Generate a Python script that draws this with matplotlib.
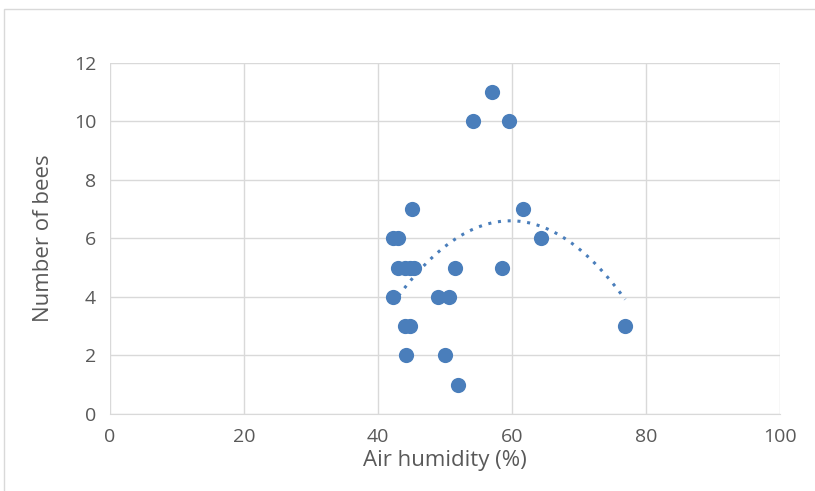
import numpy as np
import matplotlib.pyplot as plt
from matplotlib.patches import Rectangle

humidity = [57.0, 54.2, 59.6, 61.6, 64.3, 58.5, 51.5, 45.1,
            42.2, 43.0, 43.0, 44.0, 44.8, 45.4,
            42.2, 49.0, 50.6, 44.0, 44.8, 44.2, 50.0, 51.9, 76.9]
bees = [11, 10, 10, 7, 6, 5, 5, 7,
        6, 6, 5, 5, 5, 5,
        4, 4, 4, 3, 3, 2, 2, 1, 3]

blue = '#4a7ebb'
grey = '#595959'
plt.rcParams['font.family'] = ['Liberation Sans Narrow', 'Open Sans', 'DejaVu Sans']

fig = plt.figure(figsize=(8.15, 4.91), dpi=100)
ax = fig.add_axes([0.135, 0.157, 0.822, 0.715])

# chart frame
fig.patches.append(Rectangle((0.005, -0.1), 1.2, 1.082, transform=fig.transFigure,
                             fill=False, edgecolor='#d9d9d9', linewidth=1))

ax.scatter(humidity, bees, s=120, color=blue, zorder=3, linewidths=0)

# second order polynomial trend line
coef = np.polyfit(humidity, bees, 2)
xs = np.linspace(min(humidity), max(humidity), 200)
ax.plot(xs, np.polyval(coef, xs), color=blue, linestyle=(0, (1, 2.2)),
        linewidth=2.2, zorder=2)

ax.set_xlim(0, 100)
ax.set_ylim(0, 12)
ax.set_xticks(range(0, 101, 20))
ax.set_yticks(range(0, 13, 2))
ax.grid(True, color='#d9d9d9', linewidth=1)
ax.set_axisbelow(True)
for s in ['top', 'right', 'left']:
    ax.spines[s].set_visible(False)
ax.spines['bottom'].set_color('#d9d9d9')
ax.tick_params(length=0, labelsize=14, labelcolor=grey, pad=10)
ax.set_xlabel('Air humidity (%)', fontsize=16, color=grey, labelpad=3)
ax.set_ylabel('Number of bees', fontsize=16, color=grey, labelpad=14)

fig.savefig('out.png')
